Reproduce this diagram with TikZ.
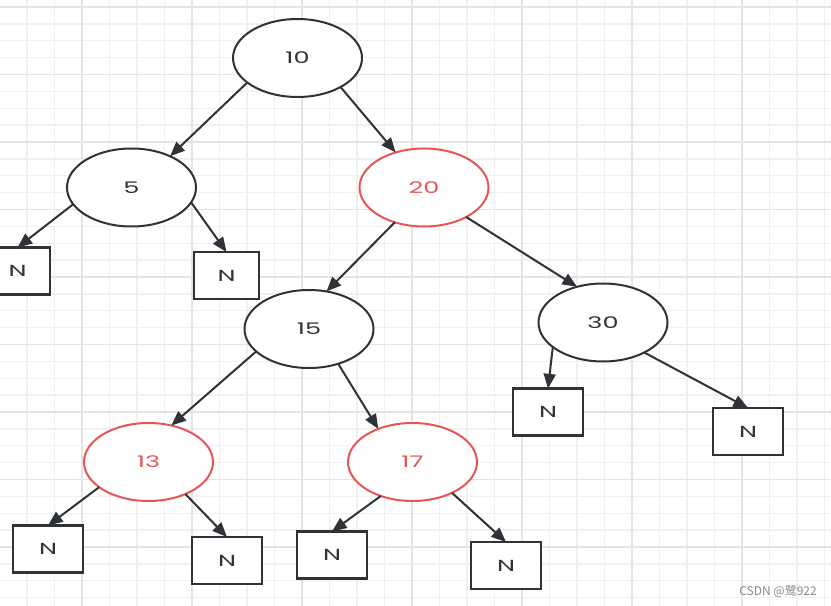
\documentclass[tikz,border=0pt]{standalone}
\usepackage{fontspec}
\usepackage{graphicx}
\setmainfont{Poppins}
\newfontfamily\cjk{Noto Sans CJK SC}
\usetikzlibrary{shapes.geometric,arrows.meta}
\definecolor{ink}{HTML}{2F3236}
\definecolor{redn}{HTML}{E85555}
\definecolor{gridminor}{HTML}{F0F0F0}
\definecolor{gridmajor}{HTML}{E4E4E4}
\definecolor{txt}{HTML}{333333}
\definecolor{wm}{HTML}{8A8A8A}
\begin{document}
\begin{tikzpicture}[x=0.75pt,y=-0.75pt,
  bnode/.style={ellipse,draw=ink,line width=1.5pt,minimum width=96.75pt,minimum height=58.5pt,
    inner sep=0pt,outer sep=0pt,fill=white,text=txt,font=\fontsize{12}{14}\selectfont},
  rnode/.style={bnode,draw=redn,text=redn},
  nilbox/.style={rectangle,draw=ink,line width=1.9pt,minimum width=52.5pt,minimum height=35.25pt,
    inner sep=0pt,outer sep=0pt,fill=white,text=txt,font=\fontsize{12}{14}\selectfont},
  nilnarrow/.style={nilbox,minimum width=48.75pt},
  edge/.style={draw=ink,line width=1.5pt,-{Triangle[length=11pt,width=9pt]}}
]
\useasboundingbox (0,0) rectangle (831,606);
\clip (0,0) rectangle (831,606);
\fill[white] (0,0) rectangle (831,606);
% grid
\foreach \k in {0,...,30} \draw[gridminor,line width=1.1pt] ({-0.5+27.5*\k},0) -- ++(0,606);
\foreach \k in {0,...,35} \draw[gridminor,line width=1.1pt] (0,{7+16.875*\k}) -- ++(831,0);
\foreach \k in {0,...,6} \draw[gridmajor,line width=1.4pt] ({82+110*\k},0) -- ++(0,606);
\foreach \k in {0,...,8} \draw[gridmajor,line width=1.4pt] (0,{7+67.5*\k}) -- ++(831,0);
% tree nodes
\node[bnode] (n10) at (297.5,58) {\scalebox{1.6}[1]{10}};
\node[bnode] (n5) at (131.5,187.5) {\scalebox{1.6}[1]{5}};
\node[rnode] (n20) at (424,187.5) {\scalebox{1.6}[1]{20}};
\node[bnode] (n15) at (309,329) {\scalebox{1.6}[1]{15}};
\node[bnode] (n30) at (603,322.5) {\scalebox{1.6}[1]{30}};
\node[rnode] (n13) at (148.5,462) {\scalebox{1.6}[1]{13}};
\node[rnode] (n17) at (412.5,462) {\scalebox{1.6}[1]{17}};
% nil leaves
\node[nilnarrow] (a1) at (17.5,271) {\scalebox{1.6}[1]{N}};
\node[nilnarrow] (a2) at (226.5,275.5) {\scalebox{1.6}[1]{N}};
\node[nilbox] (a3) at (548,412) {\scalebox{1.6}[1]{N}};
\node[nilbox] (a4) at (748,431.5) {\scalebox{1.6}[1]{N}};
\node[nilbox] (a5) at (48,549) {\scalebox{1.6}[1]{N}};
\node[nilbox] (a6) at (227,560.5) {\scalebox{1.6}[1]{N}};
\node[nilbox] (a7) at (332,555) {\scalebox{1.6}[1]{N}};
\node[nilbox] (a8) at (506,565.5) {\scalebox{1.6}[1]{N}};
% edges
\draw[edge] (n10.206) -- (n5.39);
\draw[edge] (n10.326) -- (n20.129);
\draw[edge] (n5.196) -- (a1.north);
\draw[edge] (n5.346) -- (a2.north);
\draw[edge] (n20.230) -- (n15.65);
\draw[edge] (n20.325) -- (n30.126);
\draw[edge] (n15.203) -- (n13.58);
\draw[edge] (n15.310) -- (n17.136);
\draw[edge] (n30.206) -- (a3.north);
\draw[edge] (n30.324) -- (a4.north);
\draw[edge] (n13.207) -- (a5.north);
\draw[edge] (n13.319) -- (a6.north);
\draw[edge] (n17.227) -- (a7.north);
\draw[edge] (n17.322) -- (a8.north);
% watermark
\node[anchor=east,text=wm,inner sep=0pt,font=\cjk\fontsize{9}{10}\selectfont] (wmark) at (817,591) {CSDN @鹭922};
\end{tikzpicture}
\end{document}
